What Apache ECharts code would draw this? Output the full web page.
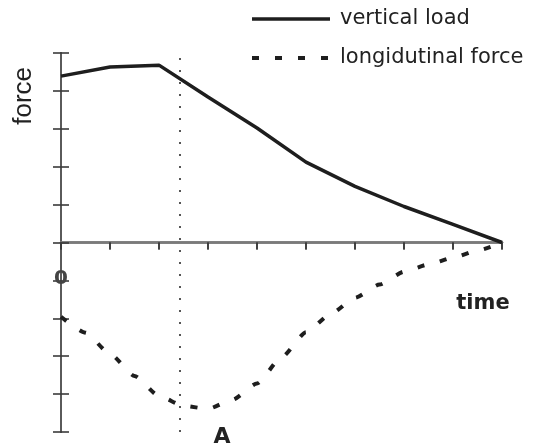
<!DOCTYPE html>
<html>
<head>
<meta charset="utf-8">
<script src="https://cdn.jsdelivr.net/npm/echarts@6/dist/echarts.min.js"></script>
<style>
html,body{margin:0;padding:0;background:#fff;}
#chart{width:541px;height:448px;}
</style>
</head>
<body>
<div id="chart"></div>
<script>
var seriesNames = ['vertical load', 'longidutinal force'];
var loadTime = [0, 1, 2, 3, 4, 5, 6, 7, 8, 9];
var verticalLoad = [4.39, 4.63, 4.68, 3.84, 3.02, 2.12, 1.48, 0.95, 0.48, 0.0];
var forceTime = [0, 0.5, 1, 1.5, 2, 2.5, 3, 3.5, 4, 4.5, 5, 5.5, 6, 6.5, 7, 7.5, 8, 8.5, 9];
var longitudinalForce = [-1.96, -2.38, -2.94, -3.52, -4.05, -4.31, -4.39, -4.15, -3.72, -3.03, -2.37, -1.89, -1.46, -1.11, -0.77, -0.58, -0.40, -0.21, 0.0];
var markerTime = 2.43;
var xMin = 0, xMax = 9, yMin = -5, yMax = 5;

var FONT = 'DejaVu Sans';
var chart = echarts.init(document.getElementById('chart'), null, {renderer: 'canvas'});

function pairs(xs, ys) { return xs.map(function (x, i) { return [x, ys[i]]; }); }

var axisLineStyle = {color: '#7a7a7a', width: 2.5};
var tickStyle = {color: '#3a3a3a', width: 1.6};

function xAx(inside) {
  return {
    type: 'value', min: xMin, max: xMax, interval: 1,
    axisLine: {show: true, onZero: true, onZeroAxisIndex: 0, lineStyle: axisLineStyle},
    axisTick: {show: true, inside: inside, length: 7, lineStyle: tickStyle},
    axisLabel: {show: false}, splitLine: {show: false}
  };
}
function yAx(inside) {
  return {
    type: 'value', min: yMin, max: yMax, interval: 1, position: 'left',
    axisLine: {show: true, onZero: false, lineStyle: {color: '#5a5a5a', width: 2}},
    axisTick: {show: true, inside: inside, length: 8, lineStyle: tickStyle},
    axisLabel: {show: false}, splitLine: {show: false}
  };
}

chart.setOption({
  animation: false,
  backgroundColor: '#fff',
  grid: {left: 61, right: 39, top: 53, bottom: 16},
  xAxis: [xAx(false), xAx(true)],
  yAxis: [yAx(false), yAx(true)],
  legend: {
    orient: 'vertical', left: 250, top: 8, padding: 0,
    itemWidth: 78, itemHeight: 14, itemGap: 17,
    itemStyle: {opacity: 0},
    textStyle: {fontFamily: FONT, fontSize: 21, color: '#222', lineHeight: 22, padding: [0, 0, 0, 5]},
    data: [
      {name: seriesNames[0], lineStyle: {width: 3.5}},
      {name: seriesNames[1], lineStyle: {width: 4}}
    ]
  },
  series: [
    {
      name: seriesNames[0], type: 'line', symbol: 'none', xAxisIndex: 0, yAxisIndex: 0,
      data: pairs(loadTime, verticalLoad),
      lineStyle: {color: '#1e1e1e', width: 3.5},
      itemStyle: {color: '#1e1e1e'},
      z: 5,
      markLine: {
        silent: true, symbol: 'none', label: {show: false},
        lineStyle: {color: '#555', width: 2, type: [2, 10]},
        data: [{xAxis: markerTime}]
      }
    },
    {
      name: seriesNames[1], type: 'line', symbol: 'none', smooth: 0.2, smoothMonotone: 'x', xAxisIndex: 0, yAxisIndex: 0,
      data: pairs(forceTime, longitudinalForce),
      lineStyle: {color: '#1e1e1e', width: 4, type: [7, 16]},
      itemStyle: {color: '#1e1e1e'},
      z: 5
    }
  ],
  graphic: [
    {type: 'text', left: 11, top: 67, rotation: Math.PI / 2, originX: 0, originY: 0,
      style: {text: 'force', fontFamily: 'Liberation Sans', fontSize: 26, fill: '#222'}},
    {type: 'text', x: 483, y: 304, style: {text: 'time', fontFamily: FONT, fontWeight: 'bold', fontSize: 21, fill: '#222', align: 'center', verticalAlign: 'middle'}},
    {type: 'text', x: 222, y: 437, style: {text: 'A', fontFamily: FONT, fontWeight: 'bold', fontSize: 22, fill: '#222', align: 'center', verticalAlign: 'middle'}},
    {type: 'text', x: 61, y: 279, z: 10, style: {text: '0', fontFamily: FONT, fontWeight: 'bold', fontSize: 20, fill: '#444', align: 'center', verticalAlign: 'middle'}}
  ]
});
</script>
</body>
</html>
